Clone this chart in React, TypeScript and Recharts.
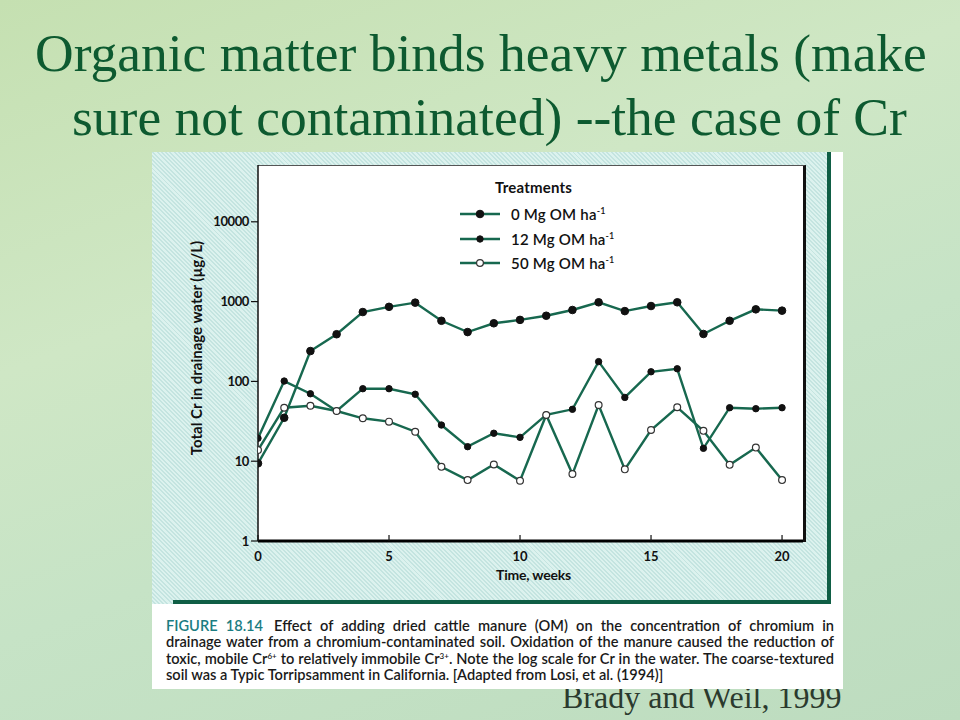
import React from 'react';
import { LineChart, Line, XAxis, YAxis, Legend } from 'recharts';

const weeks = [0, 1, 2, 3, 4, 5, 6, 7, 8, 9, 10, 11, 12, 13, 14, 15, 16, 17, 18, 19, 20];
const om0 = [9.4, 35, 240, 390, 740, 860, 970, 575, 415, 535, 590, 665, 785, 980, 760, 880, 980, 393, 575, 800, 770];
const om12 = [19.4, 101, 70, 42.6, 81, 81, 69, 28.4, 15.2, 22.4, 19.9, 38, 44.7, 177, 63, 132, 144, 14.5, 46.8, 45.5, 46.8];
const om50 = [13.8, 46.8, 49.6, 42.6, 34.5, 31.3, 23.4, 8.5, 5.8, 9.1, 5.7, 38, 6.9, 50.6, 7.9, 24.6, 47.4, 24, 9, 14.8, 5.8];

const xTicks = [0, 5, 10, 15, 20];
const yTicks = [1, 10, 100, 1000, 10000];

const seriesNames = ['0 Mg OM ha', '12 Mg OM ha', '50 Mg OM ha'];
const legendTitle = 'Treatments';
const yLabel = 'Total Cr in drainage water (\u00b5g/L)';
const xLabel = 'Time, weeks';

const titleLines = ['Organic matter binds heavy metals (make', 'sure not contaminated) --the case of Cr'];
const credit = 'Brady and Weil, 1999';

const data = weeks.map((w, i) => ({ week: w, om0: om0[i], om12: om12[i], om50: om50[i] }));

const GREEN = '#17684f';
const FIGFONT = 'Lato, "Open Sans", sans-serif';

const dotStyles = [
  { r: 3.8, fill: '#111', stroke: '#111', strokeWidth: 1 },
  { r: 3.2, fill: '#111', stroke: '#111', strokeWidth: 1 },
  { r: 3.4, fill: '#fff', stroke: '#333', strokeWidth: 1.2 },
];

const YTick = (props: any) => {
  const { x, y, payload } = props;
  return (
    <text x={x} y={y} dy={4.5} textAnchor="end" fontFamily={FIGFONT} fontWeight={700} fontSize={13} fill="#111" letterSpacing={-0.4}>
      {payload.value}
    </text>
  );
};

const XTick = (props: any) => {
  const { x, y, payload } = props;
  return (
    <g>
      <line x1={x} y1={y} x2={x} y2={y - 6} stroke="#111" strokeWidth={1.2} />
      <text x={x} y={y + 20} textAnchor="middle" fontFamily={FIGFONT} fontWeight={700} fontSize={13} fill="#111">
        {payload.value}
      </text>
    </g>
  );
};

const supStyle: React.CSSProperties = { fontSize: 9, position: 'relative', top: -6, lineHeight: 0 };

const renderLegend = () => (
  <div style={{ fontFamily: FIGFONT, color: '#111' }}>
    <div style={{ fontWeight: 700, fontSize: 15, height: 24, lineHeight: '18px', marginLeft: 35, letterSpacing: 0.2 }}>{legendTitle}</div>
    {seriesNames.map((name, i) => (
      <div key={name} style={{ display: 'flex', alignItems: 'center', height: 24.5 }}>
        <svg width={40} height={10} style={{ display: 'block' }}>
          <line x1={0} y1={5} x2={40} y2={5} stroke={GREEN} strokeWidth={2.5} />
          <circle cx={20} cy={5} r={dotStyles[i].r} fill={dotStyles[i].fill} stroke={dotStyles[i].stroke} strokeWidth={dotStyles[i].strokeWidth} />
        </svg>
        <span style={{ marginLeft: 11, fontSize: 15, fontWeight: 600, whiteSpace: 'nowrap', letterSpacing: 0.2 }}>
          {name}
          <span style={supStyle}>-1</span>
        </span>
      </div>
    ))}
  </div>
);

const capSup: React.CSSProperties = { fontSize: 8, position: 'relative', top: -5, lineHeight: 0 };

const captionLines: React.ReactNode[] = [
  <>
    <span style={{ color: '#1b7d82' }}>FIGURE 18.14</span>{'\u2003'}Effect of adding dried cattle manure (OM) on the concentration of chromium in
  </>,
  <>drainage water from a chromium-contaminated soil. Oxidation of the manure caused the reduction of</>,
  <>
    toxic, mobile Cr<span style={capSup}>6+</span> to relatively immobile Cr<span style={capSup}>3+</span>. Note the log scale for Cr in the water. The coarse-textured
  </>,
  <>soil was a Typic Torripsamment in California. [Adapted from Losi, et al. (1994)]</>,
];

export default function App() {
  return (
    <div
      style={{
        position: 'fixed',
        left: 0,
        top: 0,
        width: 960,
        height: 720,
        overflow: 'hidden',
        background: 'linear-gradient(160deg, #c5e0b1 0%, #cfe7c5 35%, #c6e3c6 60%, #bddcbf 100%)',
      }}
    >
      {titleLines.map((t, i) => (
        <div
          key={i}
          style={{
            position: 'absolute',
            left: i === 0 ? 35 : 72,
            top: i === 0 ? 26 : 90,
            fontFamily: '"Liberation Serif", "Times New Roman", serif',
            fontSize: 53.5,
            lineHeight: '54px',
            color: '#0d5a30',
            whiteSpace: 'nowrap',
          }}
        >
          {t}
        </div>
      ))}

      <div
        style={{
          position: 'absolute',
          left: 562,
          top: 681,
          fontFamily: '"Liberation Serif", "Times New Roman", serif',
          fontSize: 32,
          lineHeight: '32px',
          color: '#2b3a2e',
          whiteSpace: 'nowrap',
        }}
      >
        {credit}
      </div>

      {/* figure panel */}
      <div style={{ position: 'absolute', left: 152, top: 152, width: 691, height: 537, background: '#fff' }}>
        <div
          style={{
            position: 'absolute',
            left: 0,
            top: 0,
            width: 676,
            height: 452,
            background:
              'repeating-linear-gradient(45deg, #dcf2ee 0px, #dcf2ee 1.6px, #c4e4e0 1.6px, #c4e4e0 3px)',
          }}
        />
        <div style={{ position: 'absolute', left: 675, top: 0, width: 4, height: 452, background: '#0f5e45' }} />
        <div style={{ position: 'absolute', left: 21, top: 448, width: 658, height: 4, background: '#0f5e45' }} />
        <div
          style={{
            position: 'absolute',
            left: 106,
            top: 13,
            width: 545,
            height: 376,
            background: '#fff',
            borderTop: '1px solid #555',
            borderRight: '3px solid #111',
            boxSizing: 'content-box',
          }}
        />
        <div style={{ position: 'absolute', left: 0, top: 0 }}>
          <LineChart width={676} height={452} data={data} margin={{ top: 13, right: 25, bottom: 0, left: 0 }}>
            <XAxis
              dataKey="week"
              type="number"
              domain={[0, 20.8]}
              ticks={xTicks}
              allowDataOverflow
              height={63}
              tickLine={false}
              tickSize={0}
              tickMargin={0}
              tick={<XTick />}
              axisLine={{ stroke: '#000', strokeWidth: 3 }}
              label={{
                content: (p: any) => {
                  const vb = p.viewBox;
                  return (
                    <text x={vb.x + vb.width / 2 + 3} y={vb.y + 39} textAnchor="middle" fontFamily={FIGFONT} fontWeight={700} fontSize={14} fill="#111" letterSpacing={-0.2}>
                      {xLabel}
                    </text>
                  );
                },
              }}
            />
            <YAxis
              type="number"
              scale="log"
              domain={[1, 51500]}
              ticks={yTicks}
              allowDataOverflow
              width={106}
              tickSize={7}
              tickMargin={2}
              tick={<YTick />}
              tickLine={{ stroke: '#111', strokeWidth: 1.2 }}
              axisLine={{ stroke: '#111', strokeWidth: 1.5 }}
              label={{
                content: (p: any) => {
                  const vb = p.viewBox;
                  const cx = vb.x + 50;
                  const cy = vb.y + vb.height / 2 - 5;
                  return (
                    <text x={cx} y={cy} transform={`rotate(-90, ${cx}, ${cy})`} textAnchor="middle" fontFamily={FIGFONT} fontWeight={700} fontSize={15} fill="#111" letterSpacing={0}>
                      {yLabel}
                    </text>
                  );
                },
              }}
            />
            <Legend
              layout="vertical"
              align="center"
              verticalAlign="middle"
              content={renderLegend}
              wrapperStyle={{ left: 308, top: 26, width: 260 }}
            />
            <Line type="linear" dataKey="om0" name={seriesNames[0]} stroke={GREEN} strokeWidth={2.4} dot={dotStyles[0]} isAnimationActive={false} />
            <Line type="linear" dataKey="om12" name={seriesNames[1]} stroke={GREEN} strokeWidth={2.4} dot={dotStyles[1]} isAnimationActive={false} />
            <Line type="linear" dataKey="om50" name={seriesNames[2]} stroke={GREEN} strokeWidth={2.4} dot={dotStyles[2]} isAnimationActive={false} />
          </LineChart>
        </div>

        <div style={{ position: 'absolute', left: 14, top: 466, width: 668, fontFamily: FIGFONT, fontSize: 14.6, fontWeight: 600, color: '#1a1a1a' }}>
          {captionLines.map((ln, i) => (
            <div
              key={i}
              style={{
                height: 16.3,
                lineHeight: '16.3px',
                whiteSpace: 'nowrap',
                overflow: 'visible',
                textAlign: 'justify',
                textAlignLast: i < captionLines.length - 1 ? 'justify' : 'left',
              }}
            >
              {ln}
            </div>
          ))}
        </div>
      </div>
    </div>
  );
}
